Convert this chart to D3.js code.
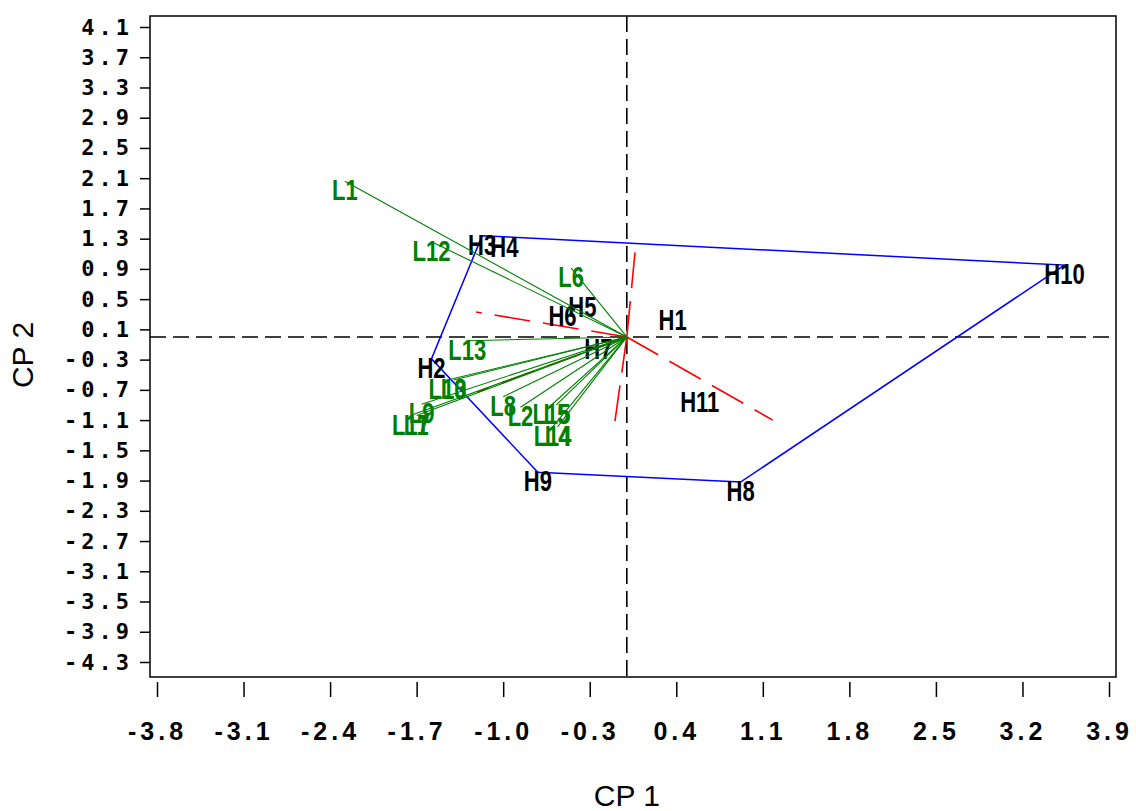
<!DOCTYPE html>
<html>
<head>
<meta charset="utf-8">
<script src="https://cdn.jsdelivr.net/npm/d3@7"></script>
<style>
  html, body { margin: 0; padding: 0; background: #fff; }
  svg { display: block; }
</style>
</head>
<body>
<svg id="chart" width="1136" height="811"></svg>
<script>
// ---------- data ----------
const xTicks = [-3.8, -3.1, -2.4, -1.7, -1.0, -0.3, 0.4, 1.1, 1.8, 2.5, 3.2, 3.9];
const yTicks = [4.1, 3.7, 3.3, 2.9, 2.5, 2.1, 1.7, 1.3, 0.9, 0.5, 0.1, -0.3, -0.7, -1.1, -1.5, -1.9, -2.3, -2.7, -3.1, -3.5, -3.9, -4.3];

// observations (scores)
const obsNames = ["H1", "H2", "H3", "H4", "H5", "H6", "H7", "H8", "H9", "H10", "H11"];
const obsX = [0.37, -1.58, -1.17, -0.99, -0.36, -0.52, -0.23, 0.92, -0.72, 3.54, 0.59];
const obsY = [0.34, -0.29, 1.34, 1.31, 0.52, 0.40, -0.04, -1.92, -1.79, 0.95, -0.74];

// convex hull order
const hullOrder = ["H3", "H10", "H8", "H9", "H2"];

// variable vectors (green)
const varNames = ["L1", "L2", "L3", "L4", "L5", "L6", "L7", "L8", "L9", "L10", "L11", "L12", "L13", "L14", "L15"];
const varX = [-2.28, -0.86, -1.40, -0.56, -0.57, -0.45, -1.70, -1.00, -1.66, -1.45, -1.75, -1.58, -1.29, -0.60, -0.61];
const varY = [2.06, -0.93, -0.57, -1.19, -0.90, 0.91, -1.04, -0.79, -0.89, -0.57, -1.04, 1.26, -0.05, -1.19, -0.90];

// secondary vectors (red dashed)
const vec2X = [0.07, -0.10, 1.18, -1.22, -1.21];
const vec2Y = [1.18, -1.16, -1.10, 0.33, -0.73];

// ---------- drawing ----------
const svg = d3.select("#chart");
const x = d3.scaleLinear().domain([-3.8, 3.9]).range([157, 1109]);
const y = d3.scaleLinear().domain([-4.3, 4.1]).range([662, 27]);

const frame = { left: 150, right: 1116, top: 16, bottom: 677 };
const labelFont = "'Liberation Sans', Arial, sans-serif";
const tickFont = "'DejaVu Sans Mono', monospace";

// frame
svg.append("rect")
  .attr("x", frame.left).attr("y", frame.top)
  .attr("width", frame.right - frame.left).attr("height", frame.bottom - frame.top)
  .attr("fill", "none").attr("stroke", "#000").attr("stroke-width", 1.5);

// reference dashed axes
svg.append("line")
  .attr("x1", frame.left).attr("x2", frame.right)
  .attr("y1", y(0)).attr("y2", y(0))
  .attr("stroke", "#000").attr("stroke-width", 1.6).attr("stroke-dasharray", "16,7");
svg.append("line")
  .attr("x1", x(0)).attr("x2", x(0))
  .attr("y1", frame.top).attr("y2", frame.bottom)
  .attr("stroke", "#000").attr("stroke-width", 1.6).attr("stroke-dasharray", "16,7");

// y axis
const yAxis = svg.append("g")
  .attr("transform", `translate(${frame.left},0)`)
  .call(d3.axisLeft(y).tickValues(yTicks).tickSize(10).tickPadding(7).tickFormat(d => d.toFixed(1)));
yAxis.select(".domain").remove();
yAxis.selectAll("line").attr("stroke", "#000").attr("stroke-width", 1.5);
yAxis.selectAll("text")
  .attr("font-family", tickFont).attr("font-weight", "bold")
  .attr("font-size", 22).attr("letter-spacing", "4px").attr("fill", "#000");

// x axis
const xAxis = svg.append("g")
  .attr("transform", `translate(0,${frame.bottom + 5})`)
  .call(d3.axisBottom(x).tickValues(xTicks).tickSize(15).tickPadding(25).tickFormat(d => d.toFixed(1)));
xAxis.select(".domain").remove();
xAxis.selectAll("line").attr("stroke", "#000").attr("stroke-width", 1.5);
xAxis.selectAll("text")
  .attr("font-family", labelFont).attr("font-weight", "bold")
  .attr("font-size", 25).attr("letter-spacing", "4px").attr("fill", "#000");

// axis titles
svg.append("text")
  .attr("x", x(0)).attr("y", 806)
  .attr("text-anchor", "middle")
  .attr("font-family", labelFont).attr("font-size", 30)
  .text("CP 1");
svg.append("text")
  .attr("transform", `translate(33,355) rotate(-90)`)
  .attr("text-anchor", "middle")
  .attr("font-family", labelFont).attr("font-size", 30)
  .text("CP 2");

// convex hull
const obs = obsNames.map((n, i) => ({ name: n, x: obsX[i], y: obsY[i] }));
const byName = new Map(obs.map(d => [d.name, d]));
const hullPts = hullOrder.map(n => byName.get(n));
svg.append("path")
  .attr("d", d3.line().x(d => x(d.x)).y(d => y(d.y)).curve(d3.curveLinearClosed)(hullPts))
  .attr("fill", "none").attr("stroke", "#0000ff").attr("stroke-width", 1.5);

// red dashed vectors
const vec2 = vec2X.map((v, i) => ({ x: v, y: vec2Y[i] }));
svg.append("g").selectAll("line").data(vec2).join("line")
  .attr("x1", x(0)).attr("y1", y(0))
  .attr("x2", d => x(d.x)).attr("y2", d => y(d.y))
  .attr("stroke", "#ff0000").attr("stroke-width", 1.6).attr("stroke-dasharray", "36,13");

// observation labels
svg.append("g").selectAll("text").data(obs).join("text")
  .attr("transform", d => `translate(${x(d.x)},${y(d.y) + 19}) scale(0.76,1)`)
  .attr("text-anchor", "middle")
  .attr("font-family", labelFont).attr("font-size", 29).attr("font-weight", "bold")
  .attr("fill", "#000")
  .text(d => d.name);

// green variable vectors
const vars = varNames.map((n, i) => ({ name: n, x: varX[i], y: varY[i] }));
svg.append("g").selectAll("line").data(vars).join("line")
  .attr("x1", x(0)).attr("y1", y(0))
  .attr("x2", d => x(d.x)).attr("y2", d => y(d.y))
  .attr("stroke", "#008000").attr("stroke-width", 1.1);
svg.append("g").selectAll("text").data(vars).join("text")
  .attr("transform", d => `translate(${x(d.x)},${y(d.y) + 19}) scale(0.76,1)`)
  .attr("text-anchor", "middle")
  .attr("font-family", labelFont).attr("font-size", 29).attr("font-weight", "bold")
  .attr("fill", "#008000")
  .text(d => d.name);
</script>
</body>
</html>
